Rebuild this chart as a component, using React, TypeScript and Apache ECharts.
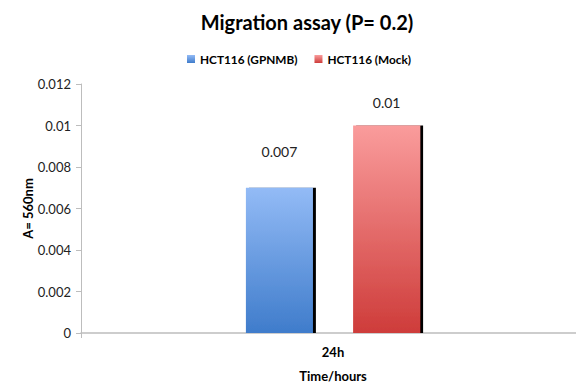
import React, { useEffect, useRef } from "react";
import * as echarts from "echarts";

const categories = ["24h"];
const gpnmbValues = [0.007];
const mockValues = [0.01];
const seriesNames = ["HCT116 (GPNMB)", "HCT116 (Mock)"];

const FONT = "Lato, 'Open Sans', sans-serif";

export default function App() {
  const ref = useRef<HTMLDivElement>(null);
  useEffect(() => {
    if (!ref.current) return;
    const chart = echarts.init(ref.current, undefined, { renderer: "svg" });
    const blueGrad = new echarts.graphic.LinearGradient(0, 0, 0, 1, [
      { offset: 0, color: "#93BBF6" },
      { offset: 1, color: "#3F7CCB" },
    ]);
    const redGrad = new echarts.graphic.LinearGradient(0, 0, 0, 1, [
      { offset: 0, color: "#FA9C9C" },
      { offset: 1, color: "#CE3C3A" },
    ]);
    chart.setOption({
      animation: false,
      backgroundColor: "#ffffff",
      textStyle: { fontFamily: FONT },
      title: {
        text: "Migration assay (P= 0.2)",
        left: 302,
        top: 7,
        textAlign: "center",
        textStyle: { fontSize: 20, fontWeight: "bold", color: "#000", fontFamily: FONT },
      },
      legend: {
        data: seriesNames,
        left: 182,
        top: 48,
        itemWidth: 8,
        itemHeight: 8,
        itemGap: 17,
        icon: "rect",
        textStyle: { fontSize: 11.8, fontWeight: "bold", color: "#000", fontFamily: FONT },
      },
      grid: {
        left: 81,
        right: 0,
        top: 84,
        bottom: 51,
        containLabel: false,
        outerBoundsMode: "none",
      },
      xAxis: {
        type: "category",
        data: categories,
        name: "Time/hours",
        nameLocation: "middle",
        nameGap: 36,
        nameMoveOverlap: false,
        nameTextStyle: { fontSize: 13, fontWeight: "bold", color: "#000", fontFamily: FONT },
        axisLine: { lineStyle: { color: "#BDBDBD", width: 1.5 } },
        axisTick: { show: true, length: 5, lineStyle: { color: "#BDBDBD" } },
        axisLabel: { fontSize: 13, fontWeight: "bold", color: "#000", margin: 12, fontFamily: FONT },
      },
      yAxis: {
        type: "value",
        min: 0,
        max: 0.012,
        interval: 0.002,
        name: "A= 560nm",
        nameLocation: "middle",
        nameGap: 47,
        nameMoveOverlap: false,
        nameTextStyle: { fontSize: 13, fontWeight: "bold", color: "#000", fontFamily: FONT },
        axisLine: { show: true, lineStyle: { color: "#BDBDBD", width: 1 } },
        axisTick: { show: true, length: 5, lineStyle: { color: "#BDBDBD" } },
        splitLine: { show: false },
        axisLabel: { fontSize: 13, color: "#222", margin: 10, fontFamily: FONT },
      },
      series: [
        {
          name: seriesNames[0],
          type: "bar",
          data: gpnmbValues,
          barWidth: 67,
          barGap: "60%",
          itemStyle: {
            color: blueGrad,
            shadowColor: "#000",
            shadowOffsetX: 3,
            shadowOffsetY: 0,
            shadowBlur: 0,
          },
          label: { show: true, position: "top", distance: 29, fontSize: 14, color: "#222", fontFamily: FONT },
        },
        {
          name: seriesNames[1],
          type: "bar",
          data: mockValues,
          barWidth: 67,
          itemStyle: {
            color: redGrad,
            shadowColor: "#000",
            shadowOffsetX: 3,
            shadowOffsetY: 0,
            shadowBlur: 0,
          },
          label: { show: true, position: "top", distance: 16, fontSize: 14, color: "#222", fontFamily: FONT },
        },
      ],
    });
    return () => chart.dispose();
  }, []);
  return (
    <div style={{ position: "fixed", left: 0, top: 0, width: 576, height: 384, overflow: "hidden" }}>
      <div ref={ref} style={{ width: 585, height: 384 }} />
    </div>
  );
}
